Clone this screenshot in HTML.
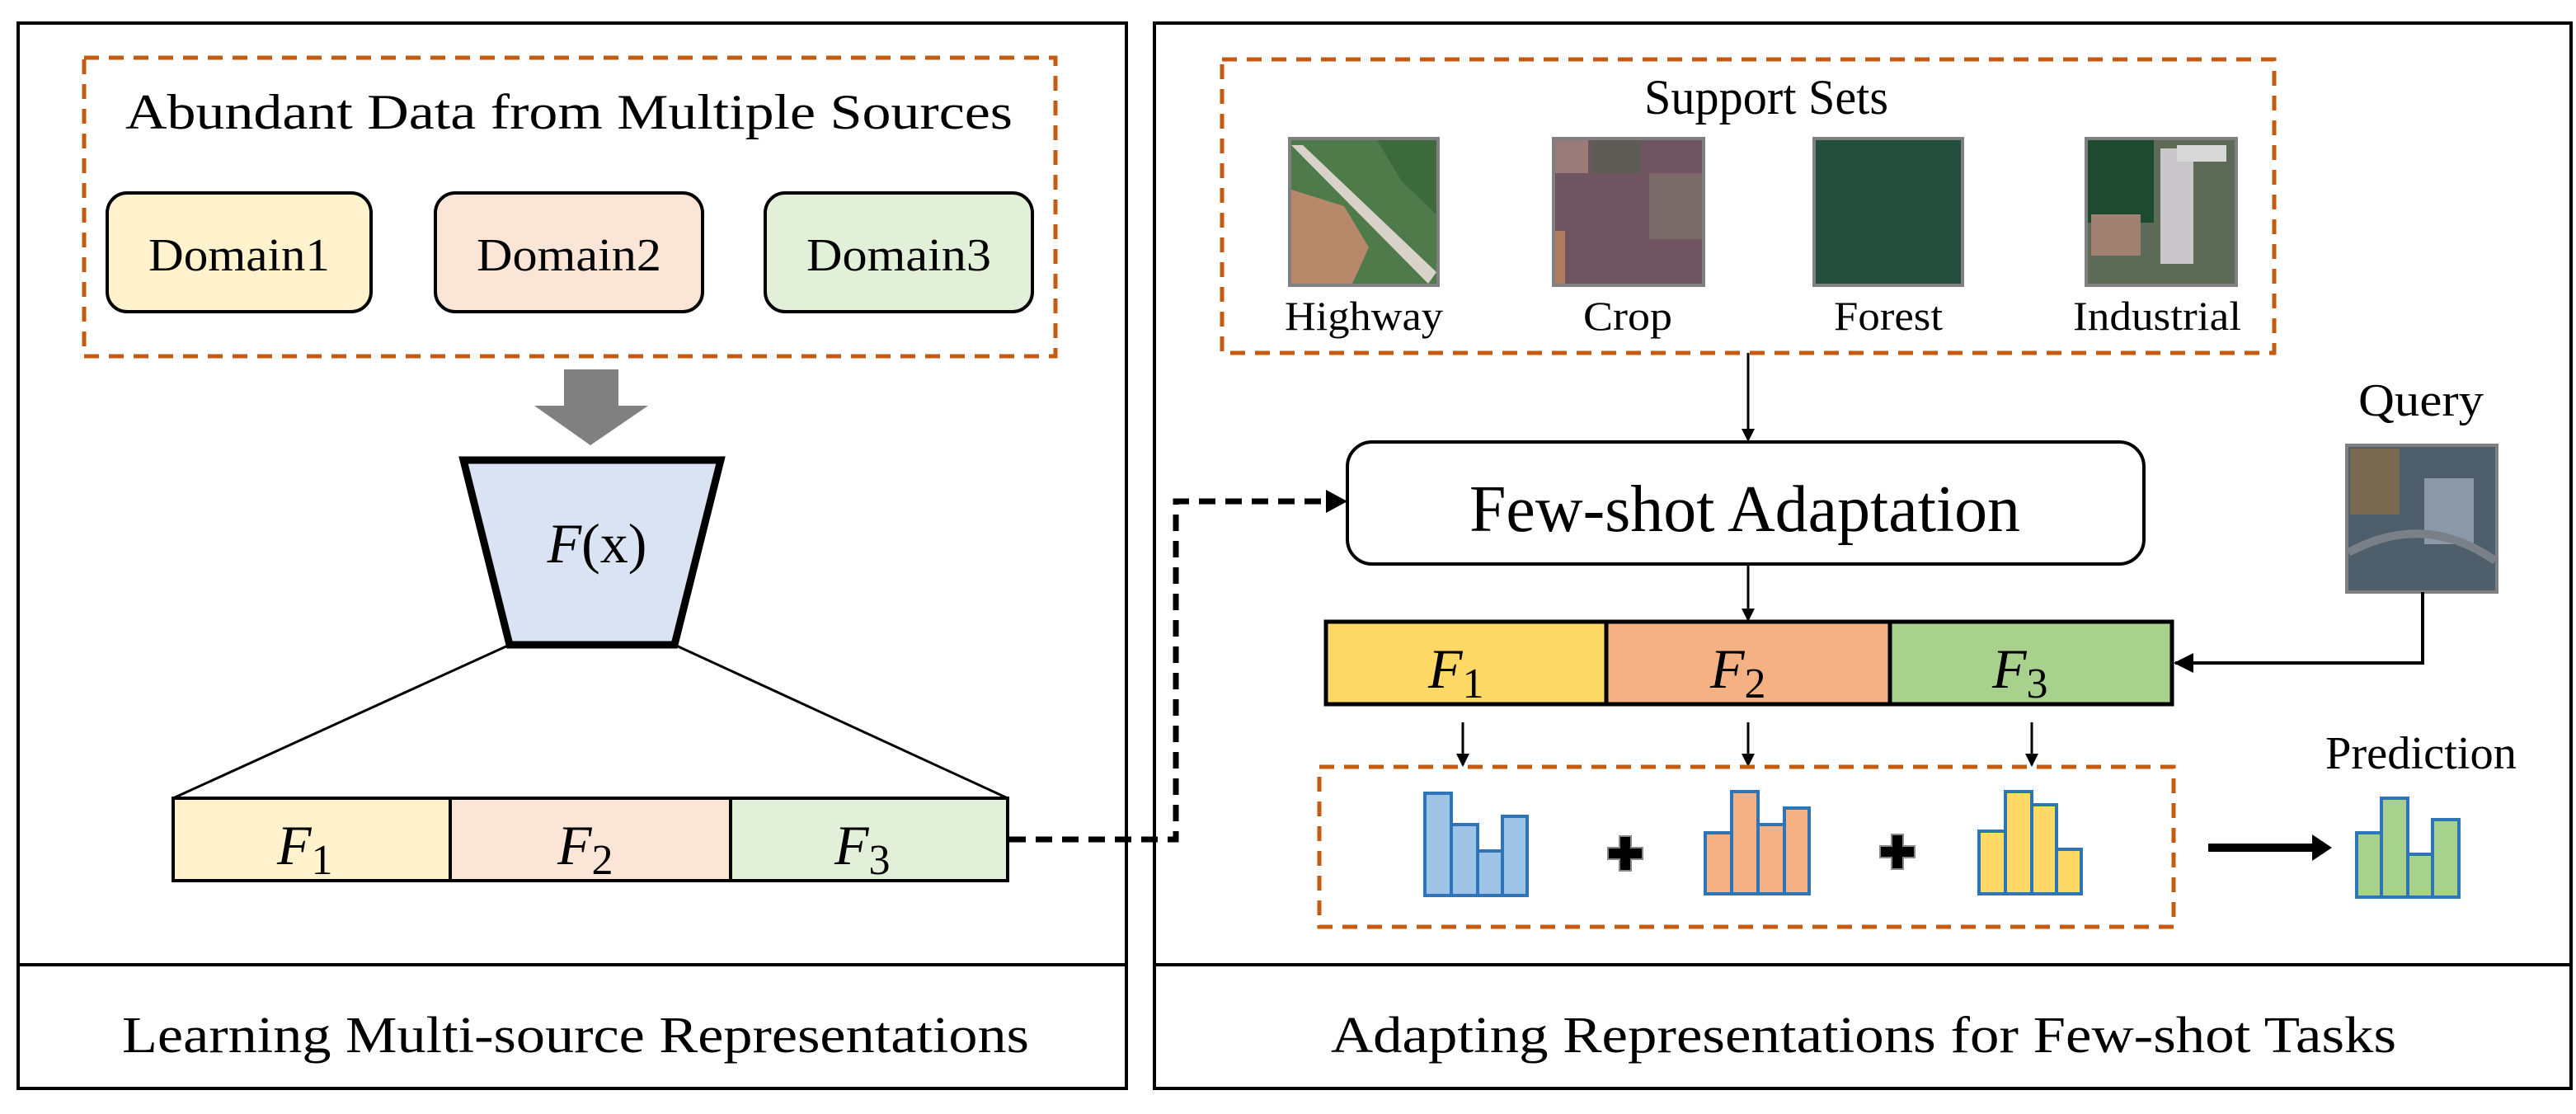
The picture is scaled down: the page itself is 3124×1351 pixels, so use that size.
<!DOCTYPE html>
<html><head><meta charset="utf-8"><style>
html,body{margin:0;padding:0;background:#fff;}
svg{display:block;}
svg text{font-family:"Liberation Serif","Times New Roman",Times,serif;fill:#000;}
</style></head><body>
<svg width="3124" height="1351" viewBox="0 0 1562 675.5" xmlns="http://www.w3.org/2000/svg" font-family="Liberation Serif, Times New Roman, serif">
<defs>
<marker id="ah" markerWidth="8" markerHeight="8" refX="7" refY="4" orient="auto" markerUnits="userSpaceOnUse"><path d="M0,0 L8,4 L0,8 z" fill="#000"/></marker>
<marker id="ahb" markerWidth="12" markerHeight="12" refX="11" refY="6" orient="auto" markerUnits="userSpaceOnUse"><path d="M0,0 L12,6 L0,12 z" fill="#000"/></marker>
</defs>
<!-- panels -->
<rect x="11" y="14" width="672" height="646" fill="none" stroke="#000" stroke-width="2"/>
<line x1="11" y1="585" x2="683" y2="585" stroke="#000" stroke-width="2"/>
<rect x="700" y="14" width="859" height="646" fill="none" stroke="#000" stroke-width="2"/>
<line x1="700" y1="585" x2="1559" y2="585" stroke="#000" stroke-width="2"/>
<text x="349" y="638" font-size="31" text-anchor="middle" textLength="550" lengthAdjust="spacingAndGlyphs">Learning Multi-source Representations</text>
<text x="1130" y="638" font-size="31" text-anchor="middle" textLength="646" lengthAdjust="spacingAndGlyphs">Adapting Representations for Few-shot Tasks</text>

<!-- left -->
<rect x="51" y="35" width="589" height="181" fill="none" stroke="#c55a11" stroke-width="2.5" stroke-dasharray="9,6"/>
<text x="345" y="78" font-size="30" text-anchor="middle" textLength="538" lengthAdjust="spacingAndGlyphs">Abundant Data from Multiple Sources</text>
<rect x="65" y="117" width="160" height="72" rx="12" fill="#fff2cc" stroke="#000" stroke-width="2"/>
<rect x="264" y="117" width="162" height="72" rx="12" fill="#fbe5d6" stroke="#000" stroke-width="2"/>
<rect x="464" y="117" width="162" height="72" rx="12" fill="#e2f0d9" stroke="#000" stroke-width="2"/>
<text x="145" y="164" font-size="28" text-anchor="middle" textLength="110" lengthAdjust="spacingAndGlyphs">Domain1</text>
<text x="345" y="164" font-size="28" text-anchor="middle" textLength="112" lengthAdjust="spacingAndGlyphs">Domain2</text>
<text x="545" y="164" font-size="28" text-anchor="middle" textLength="112" lengthAdjust="spacingAndGlyphs">Domain3</text>
<path d="M342,224 L375,224 L375,246 L393,246 L358,270 L324,246 L342,246 z" fill="#808080"/>
<path d="M281,279 L437,279 L409,391 L309,391 z" fill="#dae3f3" stroke="#000" stroke-width="4.5" stroke-linejoin="miter"/>
<text x="362" y="341" font-size="34" text-anchor="middle"><tspan font-style="italic">F</tspan>(x)</text>
<line x1="309" y1="391" x2="105" y2="484" stroke="#000" stroke-width="1.5"/>
<line x1="409" y1="391" x2="611" y2="484" stroke="#000" stroke-width="1.5"/>
<rect x="105" y="484" width="168" height="50" fill="#fff2cc" stroke="#000" stroke-width="2"/>
<rect x="273" y="484" width="170" height="50" fill="#fbe5d6" stroke="#000" stroke-width="2"/>
<rect x="443" y="484" width="168" height="50" fill="#e2f0d9" stroke="#000" stroke-width="2"/>
<text x="168" y="524" font-size="34" font-style="italic">F<tspan font-style="normal" font-size="26" dy="6">1</tspan></text>
<text x="338" y="524" font-size="34" font-style="italic">F<tspan font-style="normal" font-size="26" dy="6">2</tspan></text>
<text x="506" y="524" font-size="34" font-style="italic">F<tspan font-style="normal" font-size="26" dy="6">3</tspan></text>
<!-- dashed connector -->
<path d="M612,509 L713,509 L713,304 L806,304" fill="none" stroke="#000" stroke-width="3.5" stroke-dasharray="10,6"/>
<path d="M804,297 L817,304 L804,311 z" fill="#000"/>

<!-- right -->
<rect x="741" y="36" width="638" height="178" fill="none" stroke="#c55a11" stroke-width="2.5" stroke-dasharray="9,6"/>
<text x="1071" y="69" font-size="30" text-anchor="middle" textLength="148" lengthAdjust="spacingAndGlyphs">Support Sets</text>
<!-- images -->
<g stroke="#808080" stroke-width="2">
<rect x="782" y="84" width="90" height="89" fill="#4f7a4a"/>
<rect x="942" y="84" width="91" height="89" fill="#6e5560"/>
<rect x="1100" y="84" width="90" height="89" fill="#244e3e"/>
<rect x="1265" y="84" width="91" height="89" fill="#5e6a58"/>
<rect x="1423" y="270" width="91" height="89" fill="#4e5e6a"/>
</g>
<path d="M783,115 L783,172 L820,172 L830,150 L815,125 Z" fill="#b8886a"/>
<path d="M783,88 L790,88 L871,165 L866,172 Z" fill="#d8d2c8"/>
<path d="M835,85 L871,85 L871,130 L850,110 Z" fill="#3d6a3a"/>
<rect x="943" y="85" width="20" height="20" fill="#9a7a78"/>
<rect x="965" y="85" width="30" height="20" fill="#5e5a55"/>
<rect x="943" y="140" width="6" height="32" fill="#b07a60"/>
<rect x="1000" y="105" width="32" height="40" fill="#7a6a6a"/>
<rect x="1266" y="85" width="40" height="50" fill="#1e4a30"/>
<rect x="1310" y="90" width="20" height="70" fill="#c8c6c8"/>
<rect x="1268" y="130" width="30" height="25" fill="#a08070"/>
<rect x="1320" y="88" width="30" height="10" fill="#d8d8d8"/>
<rect x="1425" y="272" width="30" height="40" fill="#7a6a50"/>
<rect x="1470" y="290" width="30" height="40" fill="#8a98a8"/>
<path d="M1424,335 Q1470,310 1513,340" fill="none" stroke="#7a8088" stroke-width="5"/>
<text x="827" y="200" font-size="25" text-anchor="middle" textLength="96" lengthAdjust="spacingAndGlyphs">Highway</text>
<text x="987" y="200" font-size="25" text-anchor="middle" textLength="54" lengthAdjust="spacingAndGlyphs">Crop</text>
<text x="1145" y="200" font-size="25" text-anchor="middle" textLength="66" lengthAdjust="spacingAndGlyphs">Forest</text>
<text x="1308" y="200" font-size="25" text-anchor="middle" textLength="102" lengthAdjust="spacingAndGlyphs">Industrial</text>
<line x1="1060" y1="214" x2="1060" y2="267" stroke="#000" stroke-width="1.5" marker-end="url(#ah)"/>
<rect x="817" y="268" width="483" height="74" rx="15" fill="#fff" stroke="#000" stroke-width="2"/>
<text x="1058" y="322" font-size="40" text-anchor="middle" textLength="334" lengthAdjust="spacingAndGlyphs">Few-shot Adaptation</text>
<line x1="1060" y1="342" x2="1060" y2="376" stroke="#000" stroke-width="1.5" marker-end="url(#ah)"/>
<rect x="804" y="377" width="170" height="50" fill="#ffd966" stroke="#000" stroke-width="2.5"/>
<rect x="974" y="377" width="172" height="50" fill="#f4b183" stroke="#000" stroke-width="2.5"/>
<rect x="1146" y="377" width="171" height="50" fill="#a9d18e" stroke="#000" stroke-width="2.5"/>
<text x="866" y="417" font-size="34" font-style="italic">F<tspan font-style="normal" font-size="26" dy="6">1</tspan></text>
<text x="1037" y="417" font-size="34" font-style="italic">F<tspan font-style="normal" font-size="26" dy="6">2</tspan></text>
<text x="1208" y="417" font-size="34" font-style="italic">F<tspan font-style="normal" font-size="26" dy="6">3</tspan></text>
<text x="1468" y="252" font-size="28" text-anchor="middle" textLength="76" lengthAdjust="spacingAndGlyphs">Query</text>
<path d="M1469,359 L1469,402 L1319,402" fill="none" stroke="#000" stroke-width="2" marker-end="url(#ahb)"/>
<line x1="887" y1="438" x2="887" y2="464" stroke="#000" stroke-width="1.5" marker-end="url(#ah)"/>
<line x1="1060" y1="438" x2="1060" y2="464" stroke="#000" stroke-width="1.5" marker-end="url(#ah)"/>
<line x1="1232" y1="438" x2="1232" y2="464" stroke="#000" stroke-width="1.5" marker-end="url(#ah)"/>
<rect x="800" y="465" width="518" height="97" fill="none" stroke="#c55a11" stroke-width="2.5" stroke-dasharray="9,6"/>
<!-- histograms -->
<g stroke="#2e75b6" stroke-width="2">
<g fill="#9dc3e6">
<rect x="864" y="481" width="16" height="62"/><rect x="880" y="500" width="16" height="43"/><rect x="896" y="516" width="15" height="27"/><rect x="911" y="495" width="15" height="48"/>
</g>
<g fill="#f4b183">
<rect x="1034" y="505" width="16" height="37"/><rect x="1050" y="480" width="16" height="62"/><rect x="1066" y="500" width="16" height="42"/><rect x="1082" y="490" width="15" height="52"/>
</g>
<g fill="#ffd966">
<rect x="1200" y="504" width="16" height="38"/><rect x="1216" y="480" width="16" height="62"/><rect x="1232" y="488" width="15" height="54"/><rect x="1247" y="515" width="15" height="27"/>
</g>
<g fill="#a9d18e">
<rect x="1429" y="505" width="15" height="39"/><rect x="1444" y="484" width="16" height="60"/><rect x="1460" y="518" width="15" height="26"/><rect x="1475" y="497" width="16" height="47"/>
</g>
</g>
<path d="M975,514 h7 v-7 h7 v7 h7 v7 h-7 v7 h-7 v-7 h-7 z" fill="#000" stroke="#888" stroke-width="1"/>
<path d="M1140,513 h7 v-7 h7 v7 h7 v7 h-7 v7 h-7 v-7 h-7 z" fill="#000" stroke="#888" stroke-width="1"/>
<text x="1468" y="466" font-size="28" text-anchor="middle" textLength="116" lengthAdjust="spacingAndGlyphs">Prediction</text>
<line x1="1339" y1="514" x2="1405" y2="514" stroke="#000" stroke-width="5"/>
<path d="M1402,506 L1414,514 L1402,522 z" fill="#000"/>
</svg>
</body></html>
